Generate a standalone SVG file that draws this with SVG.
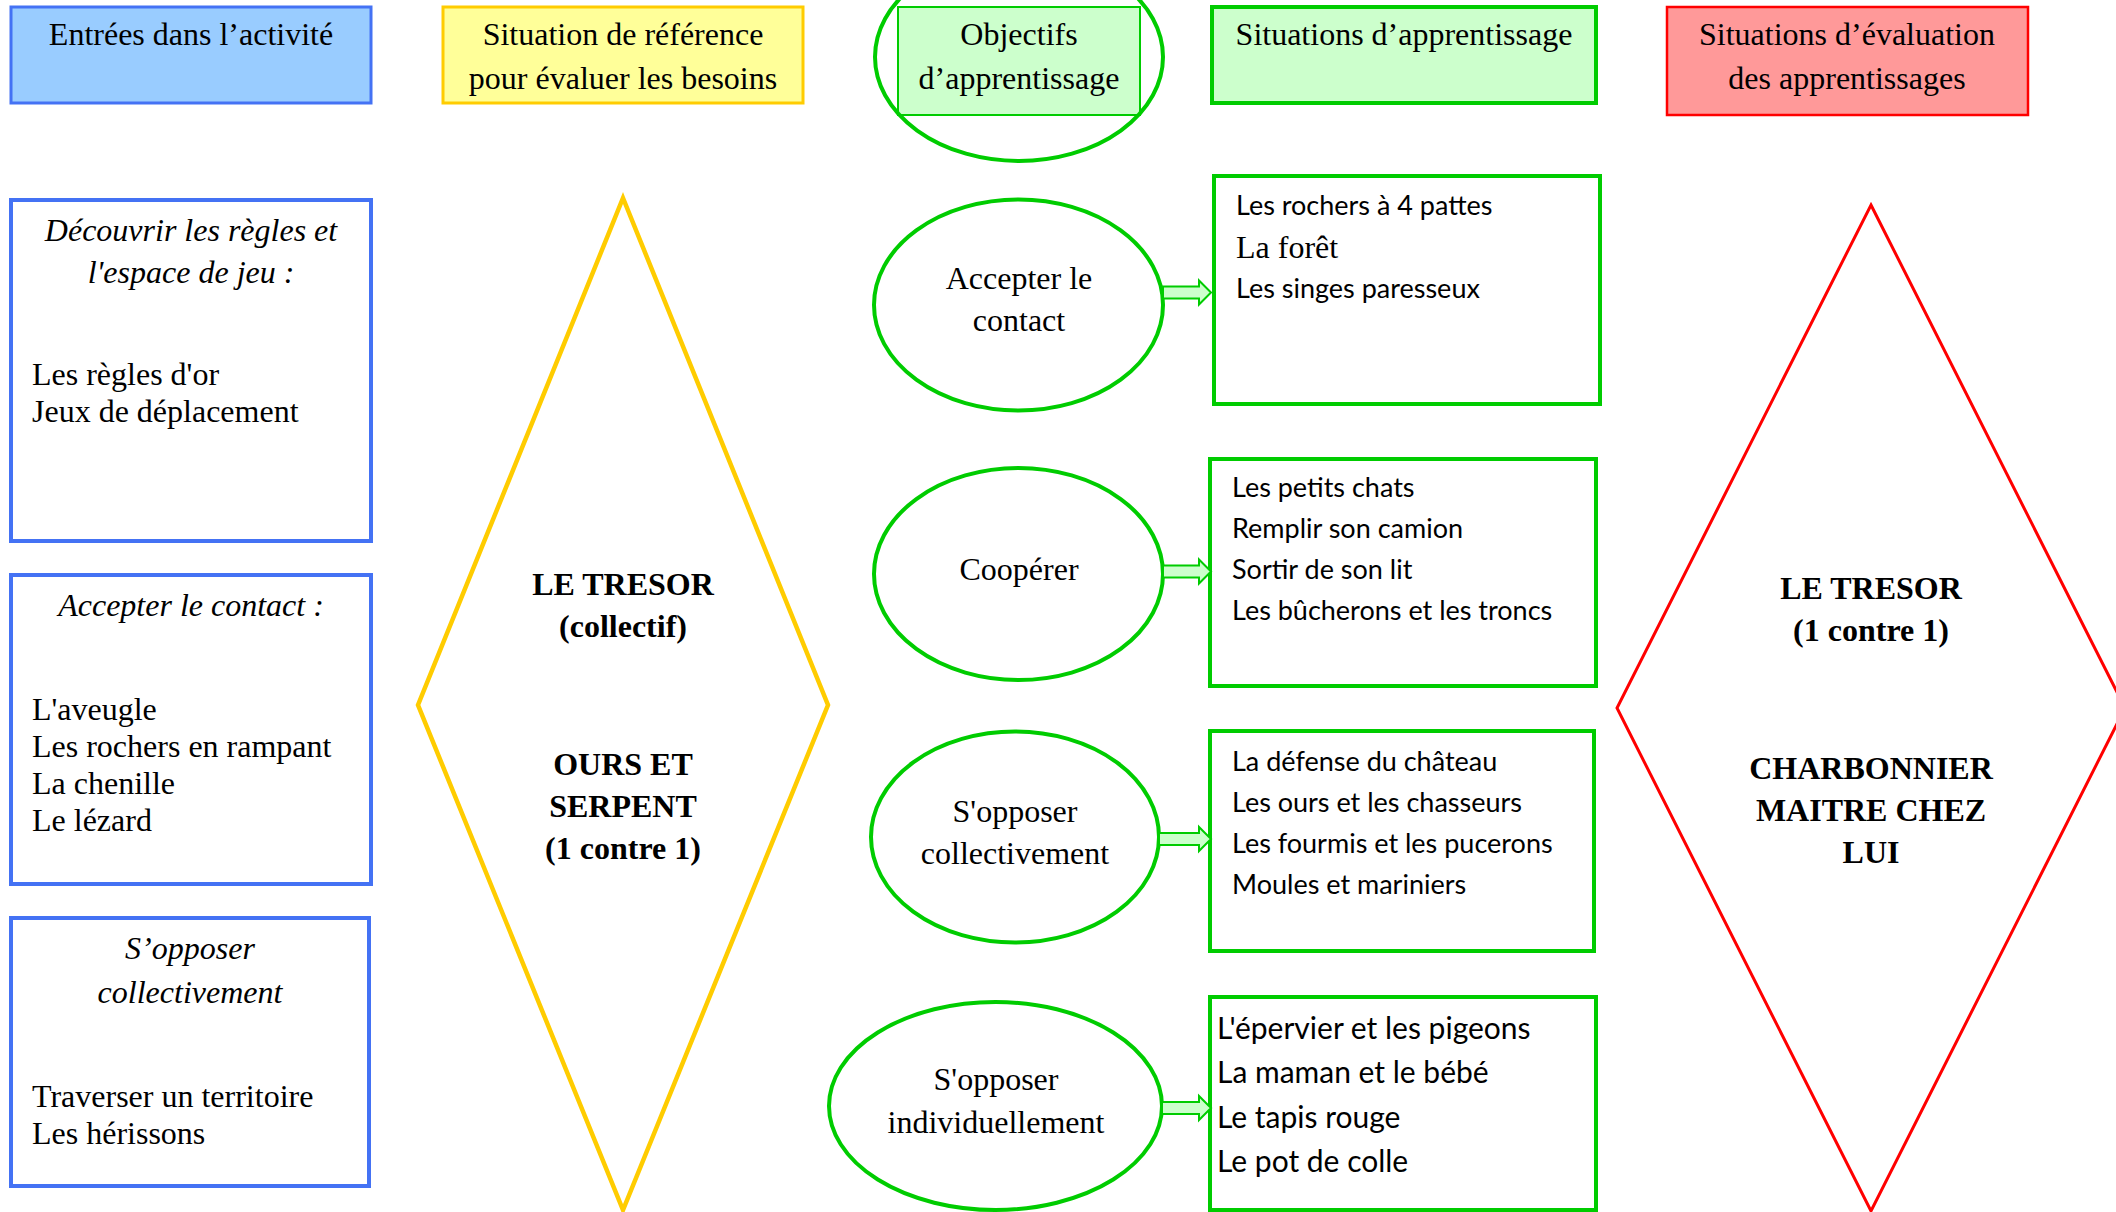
<svg xmlns="http://www.w3.org/2000/svg" width="2116" height="1212" viewBox="0 0 2116 1212">
<style>
.serif{font-family:"Liberation Serif","Times New Roman",serif;font-size:32px;fill:#000}
.it{font-style:italic}
.bold{font-weight:bold}
.mid{text-anchor:middle}
.sans{font-family:Lato,"Noto Sans",sans-serif;font-size:27px;fill:#000}
.sansL{font-family:Lato,"Noto Sans",sans-serif;font-size:30px;fill:#000}
.bluebox{fill:#fff;stroke:#4472F4;stroke-width:4}
.greenbox{fill:#fff;stroke:#00CC00;stroke-width:4}
.obj{fill:#fff;stroke:#00CC00;stroke-width:4}
.arrow{fill:#CCFFCC;stroke:#00CC00;stroke-width:2}
</style>
<rect width="2116" height="1212" fill="#fff"/>

<g id="header-entrees">
<rect x="11" y="7" width="360" height="96" fill="#99CCFF" stroke="#4472F4" stroke-width="3"/>
<text class="serif mid" x="191" y="45">Entrées dans l’activité</text>
</g>
<g id="header-reference">
<rect x="443" y="7" width="360" height="96" fill="#FFFF99" stroke="#FFCC00" stroke-width="3"/>
<text class="serif mid" x="623" y="45">Situation de référence</text>
<text class="serif mid" x="623" y="89">pour évaluer les besoins</text>
</g>
<g id="header-objectifs">
<rect x="898" y="7" width="242" height="108" fill="#CCFFCC" stroke="#00CC00" stroke-width="2"/>
<ellipse cx="1019" cy="57" rx="144" ry="104" fill="none" stroke="#00CC00" stroke-width="4"/>
<text class="serif mid" x="1019" y="45">Objectifs</text>
<text class="serif mid" x="1019" y="89">d’apprentissage</text>
</g>
<g id="header-apprentissage">
<rect x="1212" y="7" width="384" height="96" fill="#CCFFCC" stroke="#00CC00" stroke-width="4"/>
<text class="serif mid" x="1404" y="45">Situations d’apprentissage</text>
</g>
<g id="header-evaluation">
<rect x="1667" y="7" width="361" height="108" fill="#FF9999" stroke="#FF0000" stroke-width="2.5"/>
<text class="serif mid" x="1847" y="45">Situations d’évaluation</text>
<text class="serif mid" x="1847" y="89">des apprentissages</text>
</g>

<g id="entree-decouvrir">
<rect class="bluebox" x="11" y="200" width="360" height="341"/>
<text class="serif it mid" x="191" y="241">Découvrir les règles et</text>
<text class="serif it mid" x="191" y="283">l'espace de jeu :</text>
<text class="serif" x="32" y="385">Les règles d'or</text>
<text class="serif" x="32" y="422">Jeux de déplacement</text>
</g>
<g id="entree-contact">
<rect class="bluebox" x="11" y="575" width="360" height="309"/>
<text class="serif it mid" x="191" y="616">Accepter le contact :</text>
<text class="serif" x="32" y="720">L'aveugle</text>
<text class="serif" x="32" y="757">Les rochers en rampant</text>
<text class="serif" x="32" y="794">La chenille</text>
<text class="serif" x="32" y="831">Le lézard</text>
</g>
<g id="entree-opposer">
<rect class="bluebox" x="11" y="918" width="358" height="268"/>
<text class="serif it mid" x="190" y="959">S’opposer</text>
<text class="serif it mid" x="190" y="1003">collectivement</text>
<text class="serif" x="32" y="1107">Traverser un territoire</text>
<text class="serif" x="32" y="1144">Les hérissons</text>
</g>

<g id="reference-diamond">
<polygon points="623,198 828,705 623,1210 418,705" fill="#fff" stroke="#FFCC00" stroke-width="4.5"/>
<text class="serif bold mid" x="623" y="595">LE TRESOR</text>
<text class="serif bold mid" x="623" y="637">(collectif)</text>
<text class="serif bold mid" x="623" y="775">OURS ET</text>
<text class="serif bold mid" x="623" y="817">SERPENT</text>
<text class="serif bold mid" x="623" y="859">(1 contre 1)</text>
</g>

<g id="obj-contact">
<ellipse class="obj" cx="1018.5" cy="305" rx="144.5" ry="105.5"/>
<text class="serif mid" x="1019" y="289">Accepter le</text>
<text class="serif mid" x="1019" y="331">contact</text>
</g>
<g id="obj-cooperer">
<ellipse class="obj" cx="1018.5" cy="574" rx="144.5" ry="106"/>
<text class="serif mid" x="1019" y="580">Coopérer</text>
</g>
<g id="obj-collectif">
<ellipse class="obj" cx="1015" cy="837" rx="144" ry="105.5"/>
<text class="serif mid" x="1015" y="822">S'opposer</text>
<text class="serif mid" x="1015" y="864">collectivement</text>
</g>
<g id="obj-individuel">
<ellipse class="obj" cx="995.5" cy="1106" rx="166.5" ry="104"/>
<text class="serif mid" x="996" y="1090">S'opposer</text>
<text class="serif mid" x="996" y="1133">individuellement</text>
</g>

<g id="app-contact">
<rect class="greenbox" x="1214" y="176" width="386" height="228"/>
<text class="sans" x="1236" y="215">Les rochers à 4 pattes</text>
<text class="serif" x="1236" y="258">La forêt</text>
<text class="sans" x="1236" y="298">Les singes paresseux</text>
</g>
<g id="app-cooperer">
<rect class="greenbox" x="1210" y="459" width="386" height="227"/>
<text class="sans" x="1232" y="497">Les petits chats</text>
<text class="sans" x="1232" y="538">Remplir son camion</text>
<text class="sans" x="1232" y="579">Sortir de son lit</text>
<text class="sans" x="1232" y="620">Les bûcherons et les troncs</text>
</g>
<g id="app-collectif">
<rect class="greenbox" x="1210" y="731" width="384" height="220"/>
<text class="sans" x="1232" y="771">La défense du château</text>
<text class="sans" x="1232" y="812">Les ours et les chasseurs</text>
<text class="sans" x="1232" y="853">Les fourmis et les pucerons</text>
<text class="sans" x="1232" y="894">Moules et mariniers</text>
</g>
<g id="app-individuel">
<rect class="greenbox" x="1210" y="997" width="386" height="213"/>
<text class="sansL" x="1217" y="1039">L'épervier et les pigeons</text>
<text class="sansL" x="1217" y="1083">La maman et le bébé</text>
<text class="sansL" x="1217" y="1128">Le tapis rouge</text>
<text class="sansL" x="1217" y="1172">Le pot de colle</text>
</g>

<g id="evaluation-diamond">
<polygon points="1871,205 2125,708 1871,1211 1617,708" fill="#fff" stroke="#FF0000" stroke-width="3"/>
<text class="serif bold mid" x="1871" y="599">LE TRESOR</text>
<text class="serif bold mid" x="1871" y="641">(1 contre 1)</text>
<text class="serif bold mid" x="1871" y="779">CHARBONNIER</text>
<text class="serif bold mid" x="1871" y="821">MAITRE CHEZ</text>
<text class="serif bold mid" x="1871" y="863">LUI</text>
</g>

<g id="connectors">
<path class="arrow" d="M1163,286.5 H1199 V280.5 L1211,292.5 L1199,304.5 V298.5 H1163 Z"/>
<path class="arrow" d="M1163,565.5 H1199 V559.5 L1211,571.5 L1199,583.5 V577.5 H1163 Z"/>
<path class="arrow" d="M1159,833 H1199 V827 L1211,839 L1199,851 V845 H1159 Z"/>
<path class="arrow" d="M1162,1102 H1199 V1096 L1211,1108 L1199,1120 V1114 H1162 Z"/>
</g>
</svg>
